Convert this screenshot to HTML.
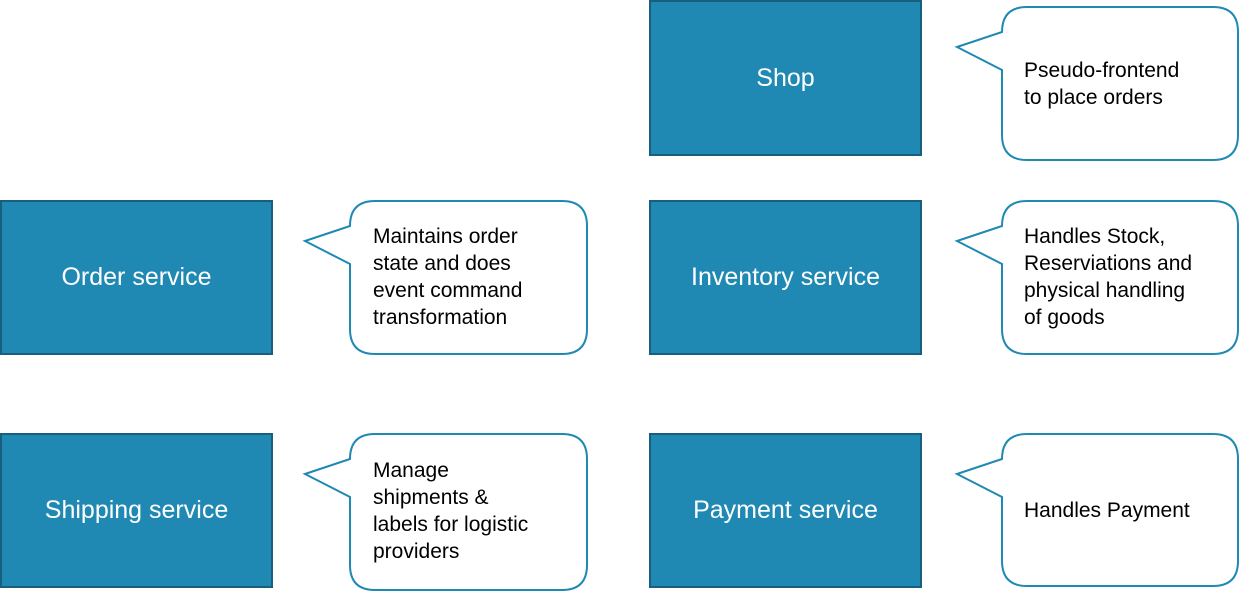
<!DOCTYPE html>
<html><head><meta charset="utf-8"><style>
html,body{margin:0;padding:0;background:#fff;}
svg{display:block}
text{font-family:"Liberation Sans",sans-serif;}
.b{fill:#2089b3;stroke:#175f7d;stroke-width:2}
.bt{fill:#fff;font-size:25px;text-anchor:middle;dominant-baseline:central}
.c{fill:#fff;stroke:#2089b3;stroke-width:2}
.ct{fill:#000;font-size:21px}
</style></head><body>
<svg width="1239" height="592" viewBox="0 0 1239 592">
<defs>
<path id="co" d="M1027,7 H1213 Q1238,7 1238,32 V135 Q1238,160 1213,160 H1027 Q1002,160 1002,135 V70 L957,47 L1002,32 Q1002,7 1027,7 Z"/>
</defs>
<rect class="b" x="650" y="1" width="271" height="154"/>
<text class="bt" x="785.5" y="78">Shop</text>
<rect class="b" x="1" y="201" width="271" height="153"/>
<text class="bt" x="136.5" y="277">Order service</text>
<rect class="b" x="650" y="201" width="271" height="153"/>
<text class="bt" x="785.5" y="277">Inventory service</text>
<rect class="b" x="1" y="434" width="271" height="153"/>
<text class="bt" x="136.5" y="510">Shipping service</text>
<rect class="b" x="650" y="434" width="271" height="153"/>
<text class="bt" x="785.5" y="510">Payment service</text>

<path class="c" d="M1027,7 H1213 Q1238,7 1238,32 V135 Q1238,160 1213,160 H1027 Q1002,160 1002,135 V70 L957,47 L1002,32 Q1002,7 1027,7 Z"/>
<text class="ct" x="1024" y="77">Pseudo-frontend</text>
<text class="ct" x="1024" y="104">to place orders</text>

<path class="c" d="M1027,201 H1213 Q1238,201 1238,226 V329 Q1238,354 1213,354 H1027 Q1002,354 1002,329 V264 L957,241 L1002,226 Q1002,201 1027,201 Z"/>
<text class="ct" x="1024" y="243">Handles Stock,</text>
<text class="ct" x="1024" y="270">Reserviations and</text>
<text class="ct" x="1024" y="297">physical handling</text>
<text class="ct" x="1024" y="324">of goods</text>

<path class="c" d="M375,201 H562 Q587,201 587,226 V329 Q587,354 562,354 H375 Q350,354 350,329 V264 L305,241 L350,226 Q350,201 375,201 Z"/>
<text class="ct" x="373" y="243">Maintains order</text>
<text class="ct" x="373" y="270">state and does</text>
<text class="ct" x="373" y="297">event command</text>
<text class="ct" x="373" y="324">transformation</text>

<path class="c" d="M375,434 H562 Q587,434 587,459 V565 Q587,590 562,590 H375 Q350,590 350,565 V497 L305,474 L350,459 Q350,434 375,434 Z"/>
<text class="ct" x="373" y="477">Manage</text>
<text class="ct" x="373" y="504">shipments &amp;</text>
<text class="ct" x="373" y="531">labels for logistic</text>
<text class="ct" x="373" y="558">providers</text>

<path class="c" d="M1027,434 H1213 Q1238,434 1238,459 V561 Q1238,586 1213,586 H1027 Q1002,586 1002,561 V497 L957,474 L1002,459 Q1002,434 1027,434 Z"/>
<text class="ct" x="1024" y="517">Handles Payment</text>
</svg>
</body></html>
